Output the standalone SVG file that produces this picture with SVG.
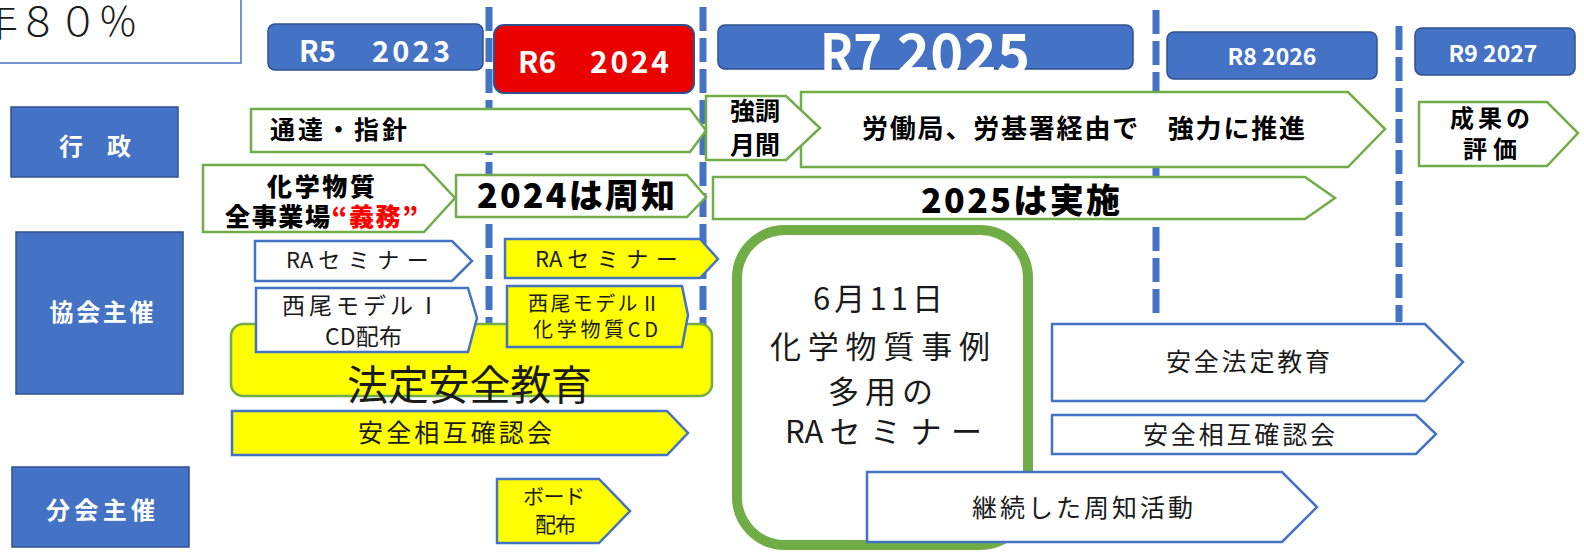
<svg xmlns="http://www.w3.org/2000/svg" width="1584" height="556" viewBox="0 0 1584 556">
<style>
text{font-family:"Noto Sans CJK JP","Noto Sans",sans-serif;fill:#1a1a1a}
.cat{fill:#4472C4;stroke:#2F528F;stroke-width:1.5}
.cat-t{fill:#fff;font-weight:bold;font-size:24px}
.yr{fill:#4472C4;stroke:#2F528F;stroke-width:1.5}
.yr-t{fill:#fff;font-weight:bold}
.gw{fill:#fff;stroke:#70AD47;stroke-width:2.5}
.bw{fill:#fff;stroke:#4472C4;stroke-width:2.5}
.by{fill:#FFFF00;stroke:#4472C4;stroke-width:2.5}
.b{font-weight:bold;fill:#000}
.hb{font-weight:900;fill:#000}
.div{stroke:#4472C4;stroke-width:7;stroke-dasharray:24 7;fill:none}
</style>

<g id="dividers">
<line class="div" x1="489" y1="7" x2="489" y2="330"/>
<line class="div" x1="703" y1="7" x2="703" y2="335"/>
<line class="div" x1="1156" y1="10" x2="1156" y2="320"/>
<line class="div" x1="1399" y1="26" x2="1399" y2="322"/>
</g>

<g id="title-box">
<rect x="-3" y="-3" width="244" height="66" fill="#fff" stroke="#4472C4" stroke-width="1.5"/>
<text x="-22" y="36" font-size="40" font-weight="300" fill="#262626">年８０％</text>
</g>

<g id="cat-gyosei">
<rect class="cat" x="11" y="107" width="167" height="70"/>
<text class="cat-t" x="95" y="155" text-anchor="middle" font-size="23">行　政</text>
</g>
<g id="cat-kyokai">
<rect class="cat" x="16" y="232" width="167" height="162"/>
<text class="cat-t" x="49.5" y="321" textLength="104">協会主催</text>
</g>
<g id="cat-bunkai">
<rect class="cat" x="12" y="467" width="177" height="80"/>
<text class="cat-t" x="46" y="519" textLength="109">分会主催</text>
</g>

<g id="year-r5">
<rect class="yr" x="268" y="24" width="215" height="46" rx="7"/>
<text class="yr-t" x="299" y="62" font-size="29">R5</text>
<text class="yr-t" x="372" y="62" font-size="29" textLength="78">2023</text>
</g>
<g id="year-r6">
<rect x="494" y="25" width="200" height="68" rx="10" fill="#EB0000" stroke="#2F528F" stroke-width="2"/>
<text class="yr-t" x="518" y="73" font-size="30">R6</text>
<text class="yr-t" x="590" y="73" font-size="30" textLength="79">2024</text>
</g>
<g id="year-r7">
<rect class="yr" x="718" y="25" width="415" height="44" rx="7"/>
<text class="yr-t" x="820" y="74" font-size="56" textLength="62" lengthAdjust="spacingAndGlyphs">R7</text>
<text class="yr-t" x="897" y="74" font-size="56" textLength="133">2025</text>
</g>
<g id="year-r8">
<rect class="yr" x="1167" y="32" width="210" height="47" rx="7"/>
<text class="yr-t" x="1272" y="65" font-size="23" text-anchor="middle">R8 2026</text>
</g>
<g id="year-r9">
<rect class="yr" x="1415" y="28" width="160" height="47" rx="7"/>
<text class="yr-t" x="1493" y="62" font-size="23" text-anchor="middle">R9 2027</text>
</g>

<g id="tsutatsu">
<polygon class="gw" points="251,109 690,109 706,130.5 690,152 251,152"/>
<text class="b" x="270" y="138.5" font-size="25" textLength="137">通達・指針</text>
</g>
<g id="roudoukyoku">
<polygon class="gw" points="801,92 1348,92 1385,129 1348,167 801,167"/>
<text class="b" x="862" y="138" font-size="26" textLength="443">労働局、労基署経由で　強力に推進</text>
</g>
<g id="kyouchou">
<polygon class="gw" points="706,96 786,96 820,128 786,160 706,160"/>
<text class="b" x="755" y="119.5" font-size="25" text-anchor="middle">強調</text>
<text class="b" x="755" y="153.5" font-size="25" text-anchor="middle">月間</text>
</g>
<g id="seika">
<polygon class="gw" points="1419,102 1547,102 1578,133 1547,166 1419,166"/>
<text class="b" x="1490" y="126.5" font-size="24" text-anchor="middle" textLength="80">成果の</text>
<text class="b" x="1490" y="157.5" font-size="24" text-anchor="middle" textLength="54">評価</text>
</g>
<g id="kagaku-gimu">
<polygon class="gw" points="203,165 424,165 455,198 424,232 203,232"/>
<text class="hb" x="267" y="195.5" font-size="25" textLength="108">化学物質</text>
<text class="hb" x="225" y="225.5" font-size="25" textLength="193">全事業場<tspan fill="#FF0000">“義務”</tspan></text>
</g>
<g id="shuchi-2024">
<polygon class="gw" points="456,175 687,175 706,197 687,217 456,217"/>
<text class="hb" x="477" y="208" font-size="34" textLength="198">2024は周知</text>
</g>
<g id="jisshi-2025">
<polygon class="gw" points="713,177 1305,177 1335,198 1305,219 713,219"/>
<text class="hb" x="921" y="212.5" font-size="34" textLength="199">2025は実施</text>
</g>

<g id="houtei-anzen">
<rect x="231" y="324" width="481" height="72" rx="12" fill="#FFFF00" stroke="#70AD47" stroke-width="2.5"/>
</g>

<g id="ra-seminar-1">
<polygon class="bw" points="255,241 452,241 472,261 452,281 255,281"/>
<text x="286" y="268" font-size="22">RA<tspan dx="5" letter-spacing="7.5">セミナー</tspan></text>
</g>
<g id="ra-seminar-2">
<polygon class="by" points="505,239 700,239 718,259 700,278 505,278"/>
<text x="535" y="267" font-size="22">RA<tspan dx="5" letter-spacing="7.5">セミナー</tspan></text>
</g>
<g id="nishio-1">
<polygon class="bw" points="256,288 468,288 477,318 468,352 256,352"/>
<text x="282" y="313.5" font-size="23" textLength="158">西尾モデルⅠ</text>
<text x="325" y="344.5" font-size="23" textLength="77">CD配布</text>
</g>
<g id="nishio-2">
<polygon class="by" points="507,286 682,286 688,315 682,347 507,347"/>
<text x="528" y="310.5" font-size="20" textLength="132">西尾モデルⅡ</text>
<text x="533" y="337" font-size="20" textLength="125">化学物質CD</text>
</g>
<g id="houtei-anzen-label">
<text x="347" y="400" font-size="41" textLength="245">法定安全教育</text>
</g>
<g id="sougo-kakunin-1">
<polygon class="by" points="232,411 667,411 688,433 667,455 232,455"/>
<text x="358" y="441.5" font-size="25" textLength="194">安全相互確認会</text>
</g>

<g id="ra-0611">
<rect x="737" y="230" width="291" height="315" rx="48" fill="#fff" stroke="#70AD47" stroke-width="10"/>
<text x="813" y="310" font-size="31" textLength="130">6月11日</text>
<text x="770" y="357.5" font-size="31" textLength="220">化学物質事例</text>
<text x="828" y="402.5" font-size="31" textLength="105">多用の</text>
<text x="785" y="443" font-size="31">RA<tspan dx="6" letter-spacing="9.5">セミナー</tspan></text>
</g>
<g id="keizoku">
<polygon class="bw" points="867,472 1282,472 1317,507 1282,542 867,542"/>
<text x="972" y="517" font-size="25" textLength="221">継続した周知活動</text>
</g>
<g id="anzen-houtei">
<polygon class="bw" points="1052,324 1425,324 1463,362 1425,401 1052,401"/>
<text x="1166" y="371" font-size="25" textLength="164">安全法定教育</text>
</g>
<g id="sougo-kakunin-2">
<polygon class="bw" points="1052,415 1416,415 1436,434 1416,454 1052,454"/>
<text x="1143" y="443.5" font-size="25" textLength="192">安全相互確認会</text>
</g>
<g id="board">
<polygon class="by" points="497,479 599,479 630,511 599,543 497,543"/>
<text x="523" y="504" font-size="21" textLength="62">ボード</text>
<text x="535" y="532" font-size="21" textLength="41">配布</text>
</g>
</svg>
